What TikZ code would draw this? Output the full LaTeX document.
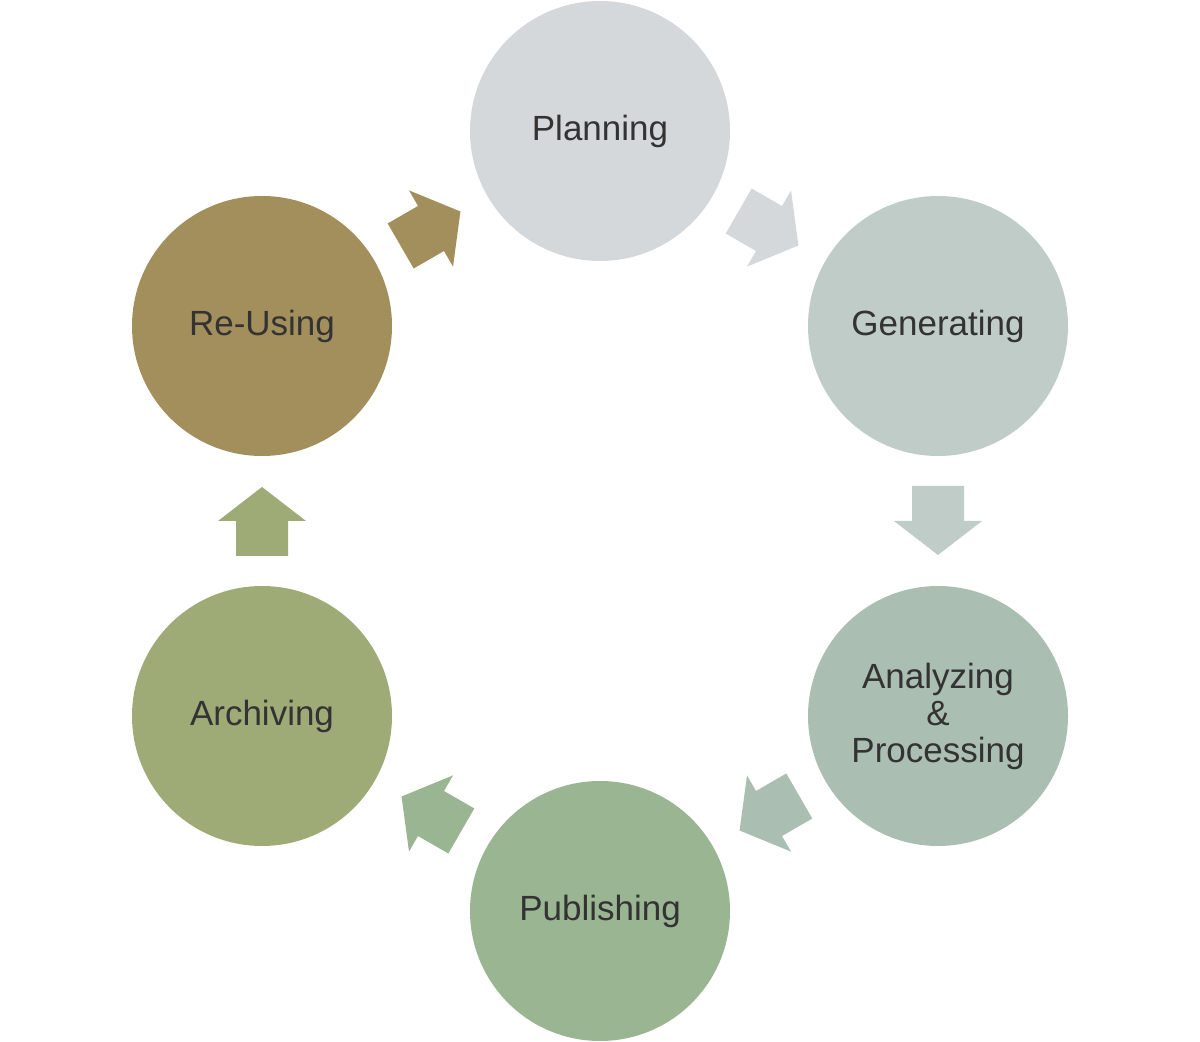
\documentclass[tikz,border=0pt]{standalone}
\usepackage{fontspec}
\setmainfont{Liberation Sans}
\usetikzlibrary{calc}
\definecolor{cPlan}{HTML}{D4D8DB}
\definecolor{cGen}{HTML}{C0CCC8}
\definecolor{cAna}{HTML}{AABEB2}
\definecolor{cPub}{HTML}{9AB592}
\definecolor{cArc}{HTML}{9EAB77}
\definecolor{cReu}{HTML}{A38F5C}
\definecolor{txt}{HTML}{333333}
\tikzset{
  stage/.style={circle, draw=none, minimum size=130pt, inner sep=0pt, align=center,
    text=txt, font=\fontsize{17.5}{18.5}\selectfont},
  blockarrow/.pic={\fill[pic actions] (-35,-26) -- (0,-26) -- (0,-44) -- (34,0) -- (0,44) -- (0,26) -- (-35,26) -- cycle;}
}
\begin{document}
\begin{tikzpicture}[x=0.5pt,y=-0.5pt]
\useasboundingbox (0,0) rectangle (1200,1042);
\node[stage, fill=cPlan] (plan) at (600,131) {Planning};
\node[stage, fill=cGen] (gen) at (938,326) {Generating};
\node[stage, fill=cAna] (ana) at (938,716) {Analyzing\\\&\\Processing};
\node[stage, fill=cPub] (pub) at (600,911) {Publishing};
\node[stage, fill=cArc] (arc) at (262,716) {Archiving};
\node[stage, fill=cReu] (reu) at (262,326) {Re-Using};
\pic[fill=cPlan, rotate=-30] at ($(plan)!0.5!(gen)$) {blockarrow};
\pic[fill=cGen, rotate=-90] at ($(gen)!0.5!(ana)$) {blockarrow};
\pic[fill=cAna, rotate=-150] at ($(ana)!0.5!(pub)$) {blockarrow};
\pic[fill=cPub, rotate=150] at ($(pub)!0.5!(arc)$) {blockarrow};
\pic[fill=cArc, rotate=90] at ($(arc)!0.5!(reu)$) {blockarrow};
\pic[fill=cReu, rotate=30] at ($(reu)!0.5!(plan)$) {blockarrow};
\end{tikzpicture}
\end{document}
